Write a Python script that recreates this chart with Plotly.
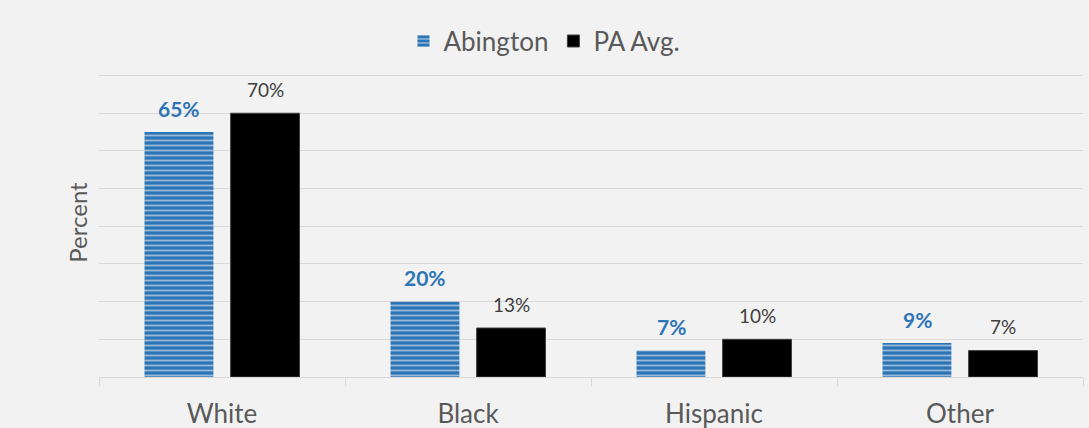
import plotly.graph_objects as go

categories = ["White", "Black", "Hispanic", "Other"]
abington = [65, 20, 7, 9]
pa_avg = [70, 13, 10, 7]
abington_labels = ["65%", "20%", "7%", "9%"]
pa_labels = ["70%", "13%", "10%", "7%"]

FONT = "Lato, 'Open Sans', sans-serif"

fig = go.Figure()
fig.add_trace(go.Bar(
    name="Abington", x=categories, y=abington,
    marker=dict(color="#2E75B6", line=dict(width=0),
                pattern=dict(shape="-", fgcolor="white", bgcolor="#2E75B6",
                             size=5, solidity=0.35, fillmode="overlay")),
))
fig.add_trace(go.Bar(
    name="PA Avg.", x=categories, y=pa_avg,
    marker=dict(color="#000000", line=dict(width=1, color="#404040")),
))

# data labels above bars (offset by half the group slot)
for cat, v, lab in zip(categories, abington, abington_labels):
    fig.add_annotation(x=cat, y=v, text=lab, showarrow=False, xshift=-43, yshift=24,
                       yanchor="middle",
                       font=dict(family=FONT, size=21, color="#2E75B6", weight="bold"))
for cat, v, lab in zip(categories, pa_avg, pa_labels):
    fig.add_annotation(x=cat, y=v, text=lab, showarrow=False, xshift=43, yshift=24,
                       yanchor="middle",
                       font=dict(family=FONT, size=19, color="#404040"))

fig.update_layout(
    width=1089, height=428,
    paper_bgcolor="#F2F2F2", plot_bgcolor="#F2F2F2",
    margin=dict(l=99, r=6, t=68, b=51),
    barmode="group", bargap=0.30, bargroupgap=0.2,
    font=dict(family=FONT, color="#595959"),
    showlegend=True,
    legend=dict(orientation="h", x=0.5, xanchor="center", xref="container",
                y=0.904, yanchor="middle", yref="container",
                font=dict(size=26, color="#595959"),
                bgcolor="rgba(0,0,0,0)", itemwidth=30),
    xaxis=dict(showgrid=False, showline=True, linecolor="#D9D9D9", linewidth=1,
               ticks="outside", tickson="boundaries", ticklen=8, tickcolor="#D9D9D9",
               tickfont=dict(size=26, color="#595959"), automargin=False,
               ticklabelstandoff=14),
    yaxis=dict(range=[0, 82], tickvals=[10, 20, 30, 40, 50, 60, 70, 80],
               showgrid=True, gridcolor="#D9D9D9", gridwidth=1,
               showticklabels=False, zeroline=False, showline=False, automargin=False,
               title=dict(text="Percent", font=dict(size=24, color="#595959"), standoff=3)),
)

fig.write_html(
    "out.html",
    config={"displayModeBar": False},
    post_script="document.body.style.margin='0';document.body.style.background='#F2F2F2';window.dispatchEvent(new Event('resize'));",
)
